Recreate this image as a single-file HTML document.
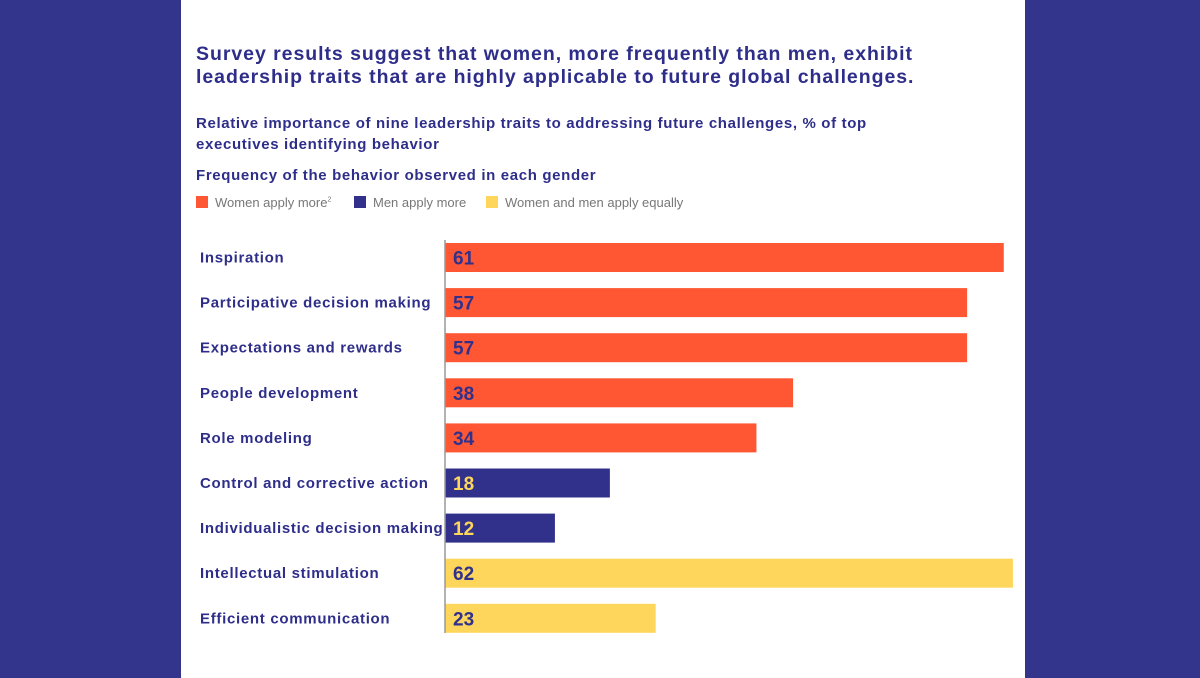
<!DOCTYPE html>
<html><head><meta charset="utf-8"><style>
body{margin:0;width:1200px;height:678px;background:#33358c;font-family:"Liberation Sans",sans-serif;overflow:hidden}
#card{position:absolute;left:181px;top:0;width:844px;height:678px;background:#fff}
.t{position:absolute;color:#2e2e8a;font-weight:bold;white-space:nowrap}
.lg{position:absolute;top:195px;font-size:13px;color:#777;white-space:nowrap}
.sw{display:inline-block;width:12px;height:12px;vertical-align:-1px;margin-right:7px}
</style></head><body>
<div id="card"></div>
<div class="t" style="left:196px;top:43px;font-size:19.5px;line-height:23px;letter-spacing:0.95px">Survey results suggest that women, more frequently than men, exhibit<br>leadership traits that are highly applicable to future global challenges.</div>
<div class="t" style="left:196px;top:113px;font-size:15px;line-height:21px;letter-spacing:0.65px">Relative importance of nine leadership traits to addressing future challenges, % of top<br>executives identifying behavior</div>
<div class="t" style="left:196px;top:167px;font-size:15px;letter-spacing:0.65px">Frequency of the behavior observed in each gender</div>
<div class="lg" style="left:196px"><span class="sw" style="background:#ff5733"></span>Women apply more<sup style="font-size:7px">2</sup></div>
<div class="lg" style="left:354px"><span class="sw" style="background:#31318b"></span>Men apply more</div>
<div class="lg" style="left:486px"><span class="sw" style="background:#fed65c"></span>Women and men apply equally</div>
<svg id="chart" width="1200" height="678" style="position:absolute;left:0;top:0"></svg>
<script>
const categories=["Inspiration","Participative decision making","Expectations and rewards","People development","Role modeling","Control and corrective action","Individualistic decision making","Intellectual stimulation","Efficient communication"];
const values=[61,57,57,38,34,18,12,62,23];
const groups=["w","w","w","w","w","m","m","e","e"];
const fill={w:"#ff5733",m:"#31318b",e:"#fed65c"};
const lblColor={w:"#31318b",m:"#fed65c",e:"#31318b"};
const svg=document.getElementById('chart');const NS="http://www.w3.org/2000/svg";
const x0=445,scale=9.16;const xS=v=>x0+v*scale;const yS=i=>243+i*45.1;const bh=29;
function mk(t,a){const e=document.createElementNS(NS,t);for(const k in a)e.setAttribute(k,a[k]);svg.appendChild(e);return e;}
categories.forEach((c,i)=>{
 const r=mk('rect',{x:x0,y:yS(i),width:xS(values[i])-x0,height:bh,fill:fill[groups[i]]});
 
 
 const v=mk('text',{x:x0+8,y:yS(i)+bh/2+7,'font-size':19,'font-weight':'bold',fill:lblColor[groups[i]],'font-family':'Liberation Sans'});v.textContent=values[i];
 
 
 const l=mk('text',{x:200,y:yS(i)+bh/2+5,'font-size':15,'font-weight':'bold',fill:'#2e2e8a','font-family':'Liberation Sans','letter-spacing':0.7});l.textContent=c;
 
 
});
const ax=mk('line',{x1:x0,x2:x0,y1:240,y2:633,stroke:'#999','stroke-width':1.5});


</script>
</body></html>
